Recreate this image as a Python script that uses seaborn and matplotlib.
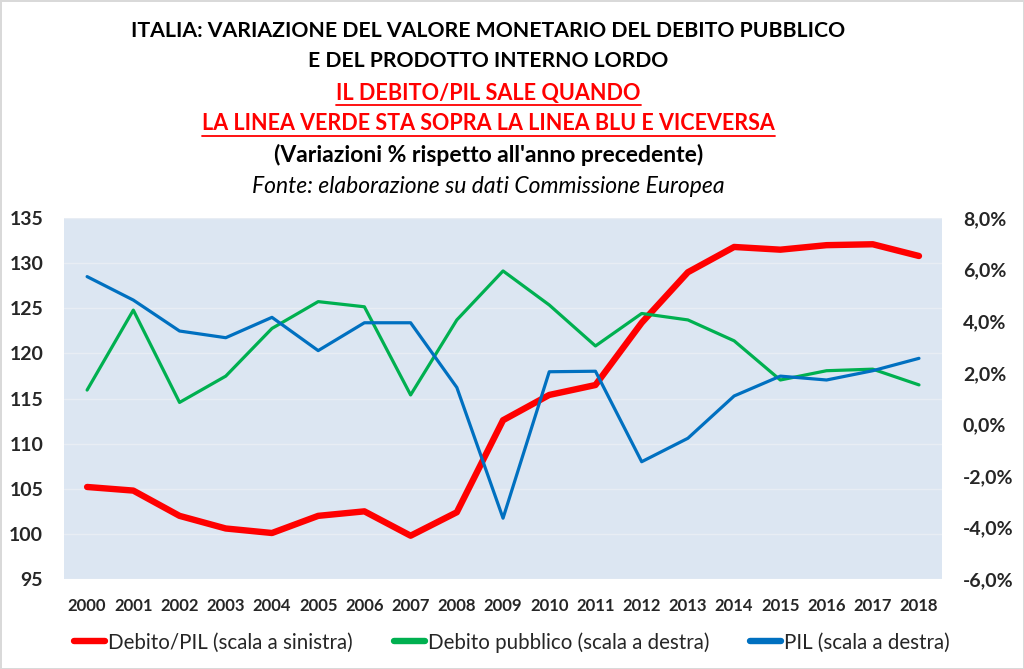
import matplotlib
matplotlib.use("Agg")
import matplotlib.pyplot as plt
from matplotlib.lines import Line2D
from matplotlib.ticker import FuncFormatter
import seaborn as sns
import pandas as pd

# dati
anni = list(range(2000, 2019))
debito_pil = [105.2, 104.8, 102.0, 100.6, 100.1, 102.0, 102.5, 99.8, 102.4, 112.6,
              115.4, 116.5, 123.4, 129.0, 131.8, 131.5, 132.0, 132.1, 130.8]
debito_pubblico = [1.33, 4.43, 0.85, 1.87, 3.72, 4.76, 4.56, 1.14, 4.05, 5.95,
                   4.63, 3.04, 4.30, 4.05, 3.24, 1.72, 2.08, 2.14, 1.53]
pil = [5.73, 4.82, 3.62, 3.36, 4.15, 2.86, 3.94, 3.94, 1.43, -3.64,
       2.04, 2.06, -1.45, -0.54, 1.10, 1.87, 1.72, 2.08, 2.56]

df = pd.DataFrame({"anno": anni, "debito_pil": debito_pil,
                   "debito_pubblico": debito_pubblico, "pil": pil})

sns.set_style("white")
plt.rcParams["font.family"] = ["Lato", "DejaVu Sans"]

fig = plt.figure(figsize=(10.24, 6.69), dpi=100)
fig.patch.set_edgecolor("#D9D9D9")
fig.patch.set_linewidth(2)
ax = fig.add_axes([0.0625, 0.1345, 0.8575, 0.5395])
ax.set_facecolor("#DCE6F2")
ax2 = ax.twinx()

sns.lineplot(data=df, x="anno", y="debito_pil", ax=ax, color="#FF0000",
             linewidth=4.6, label="Debito/PIL (scala a sinistra)", legend=False)
sns.lineplot(data=df, x="anno", y="debito_pubblico", ax=ax2, color="#00B050",
             linewidth=2.3, label="Debito pubblico (scala a destra)", legend=False)
sns.lineplot(data=df, x="anno", y="pil", ax=ax2, color="#0070C0",
             linewidth=2.3, label="PIL (scala a destra)", legend=False)

ax.set_xlim(1999.5, 2018.5)
ax.set_ylim(95, 135)
ax.set_yticks(range(95, 140, 5))
ax2.set_ylim(-6, 8)
ax2.set_yticks(range(-6, 10, 2))
ax2.yaxis.set_major_formatter(FuncFormatter(lambda v, p: f"{v:.1f}%".replace(".", ",")))
ax.set_xticks(anni)
ax.set_xticklabels([str(a) for a in anni])

ax.grid(axis="y", color="#E8EDF4", linewidth=1)
ax.set_axisbelow(True)
for a in (ax, ax2):
    for s in a.spines.values():
        s.set_visible(False)
    a.set_xlabel("")
    a.set_ylabel("")
ax.tick_params(axis="x", length=0, pad=14, labelsize=12)
ax.tick_params(axis="y", length=0, pad=15, labelsize=14)
ax2.tick_params(axis="y", length=0, pad=15, labelsize=14)
for lab in ax.get_xticklabels() + ax.get_yticklabels() + ax2.get_yticklabels():
    lab.set_fontweight("bold")

# titolo
righe = [
    ("ITALIA: VARIAZIONE DEL VALORE MONETARIO DEL DEBITO PUBBLICO", "black", "bold", "normal", 0.953, 15.3),
    ("E DEL PRODOTTO INTERNO LORDO", "black", "bold", "normal", 0.909, 15.2),
    ("IL DEBITO/PIL SALE QUANDO", "#FF0000", "bold", "normal", 0.860, 15.6),
    ("LA LINEA VERDE STA SOPRA LA LINEA BLU E VICEVERSA", "#FF0000", "bold", "normal", 0.815, 15.5),
    ("(Variazioni % rispetto all'anno precedente)", "black", "bold", "normal", 0.768, 16.5),
    ("Fonte: elaborazione su dati Commissione Europea", "black", "normal", "italic", 0.721, 16.5),
]
testi = []
for testo, col, peso, stile, y, dim in righe:
    t = fig.text(0.477, y, testo, ha="center", va="center", color=col,
                 fontsize=dim, fontweight=peso, fontstyle=stile)
    testi.append(t)

handles = [Line2D([], [], color="#FF0000", lw=4.6),
           Line2D([], [], color="#00B050", lw=4.6),
           Line2D([], [], color="#0070C0", lw=4.6)]
labels = ["Debito/PIL (scala a sinistra)", "Debito pubblico (scala a destra)",
          "PIL (scala a destra)"]
fig.legend(handles, labels, loc="center", bbox_to_anchor=(0.5, 0.04), ncol=3,
           frameon=False, handlelength=1.5, handletextpad=0.15, columnspacing=2.0,
           prop={"size": 14.8})

# sottolineatura delle righe rosse
fig.canvas.draw()
inv = fig.transFigure.inverted()
for t in testi[2:4]:
    bb = t.get_window_extent().transformed(inv)
    yl = bb.y0 - 0.002
    fig.add_artist(Line2D([bb.x0, bb.x1], [yl, yl], color="#FF0000", lw=1.3,
                          transform=fig.transFigure))

fig.savefig("out.png", dpi=100)
